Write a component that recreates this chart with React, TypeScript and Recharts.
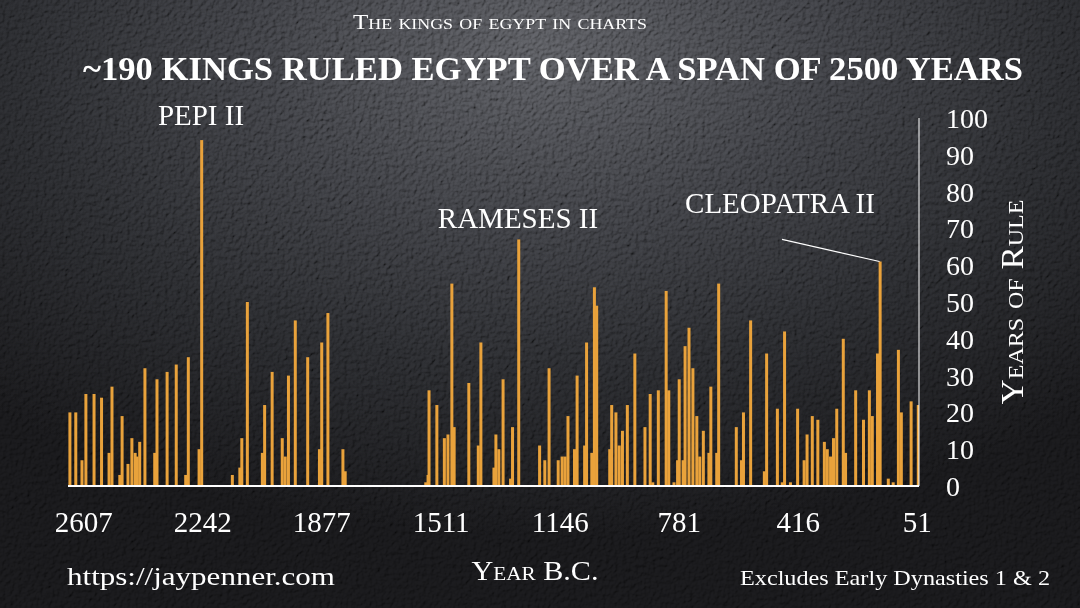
import React from 'react';
import { BarChart, Bar, XAxis, YAxis, ReferenceLine } from 'recharts';

// first year of each reign (B.C.)
const reignStart = [
  2649, 2631, 2612, 2600, 2575, 2552, 2529, 2520, 2496, 2489,
  2471, 2459, 2449, 2443, 2435, 2419, 2389, 2382, 2351, 2323,
  2294, 2286, 2253, 2245, 2151, 2128, 2122, 2105, 2059, 2052,
  2029, 1998, 1989, 1979, 1958, 1920, 1884, 1877, 1858, 1812,
  1805, 1558, 1551, 1548, 1524, 1501, 1490, 1478, 1471, 1426,
  1397, 1389, 1349, 1343, 1334, 1321, 1298, 1292, 1273, 1209,
  1193, 1180, 1152, 1140, 1131, 1122, 1102, 1094, 1071, 1065,
  1049, 1041, 1034, 994, 988, 975, 965, 955, 940, 917,
  886, 870, 862, 845, 821, 813, 797, 786, 781, 769,
  763, 751, 739, 727, 718, 707, 690, 684, 666, 660,
  606, 590, 584, 562, 520, 513, 480, 465, 458, 440,
  418, 398, 389, 373, 356, 336, 327, 317, 308, 298,
  278, 271, 240, 216, 198, 189, 173, 165, 140, 125,
  109, 100, 70, 48,
];

// years of rule for each king
const reignLength = [
  20, 20, 7, 25, 25, 24, 9, 27, 3, 19,
  6, 13, 9, 8, 12, 32, 9, 29, 31, 33,
  3, 35, 10, 94, 3, 5, 13, 50, 9, 22,
  31, 13, 8, 30, 45, 35, 10, 39, 47, 10,
  4, 1, 3, 26, 22, 13, 14, 55, 16, 28,
  11, 39, 5, 14, 10, 29, 2, 16, 67, 11,
  7, 32, 7, 8, 8, 19, 10, 30, 11, 39,
  9, 54, 49, 10, 22, 20, 11, 15, 22, 36,
  16, 25, 1, 26, 53, 26, 1, 7, 29, 7,
  38, 43, 32, 19, 8, 15, 9, 27, 9, 55,
  16, 7, 20, 45, 4, 36, 21, 1, 42, 1,
  21, 7, 14, 19, 18, 12, 10, 8, 13, 21,
  40, 9, 26, 18, 26, 19, 36, 61, 2, 1,
  37, 20, 23, 22,
];

const yearTicks = [2607, 2242, 1877, 1511, 1146, 781, 416, 51];
const ruleTicks = [0, 10, 20, 30, 40, 50, 60, 70, 80, 90, 100];

const data = reignStart.map((year, i) => ({ year, reign: reignLength[i] }));

const BAR_COLOR = '#e9a23b';
const FONT = '"Liberation Serif", "DejaVu Serif", serif';

// fixed-width bar centred on its year
function ThinBar(props: any) {
  const { x, y, width, height, fill } = props;
  if (!height || height <= 0) return <g />;
  return <rect x={x + width / 2 - 1.5} y={y} width={3} height={height} fill={fill} />;
}

export default function App() {
  return (
    <div
      style={{
        position: 'absolute',
        left: 0,
        top: 0,
        width: 1080,
        height: 608,
        overflow: 'hidden',
        background:
          'radial-gradient(ellipse 75% 80% at 50% 8%, #4a4b4f 0%, #343539 35%, #232427 65%, #141416 100%)',
      }}
    >
      <svg width={1080} height={608} style={{ position: 'absolute', left: 0, top: 0, mixBlendMode: 'overlay', opacity: 0.45 }}>
        <filter id="leather" x="0" y="0" width="100%" height="100%">
          <feTurbulence type="fractalNoise" baseFrequency="0.24" numOctaves={3} seed={7} result="n" />
          <feDiffuseLighting in="n" lightingColor="#ffffff" surfaceScale={2.4} diffuseConstant={0.9}>
            <feDistantLight azimuth={225} elevation={45} />
          </feDiffuseLighting>
        </filter>
        <rect width={1080} height={608} filter="url(#leather)" />
      </svg>

      <div style={{ position: 'absolute', left: 0, top: 0 }}>
        <BarChart width={1080} height={608} data={data} margin={{ top: 118, right: 81, bottom: 72, left: 68 }}>
          <XAxis
            dataKey="year"
            type="number"
            domain={[46, 2655]}
            reversed
            allowDataOverflow
            ticks={yearTicks}
            interval={0}
            tickLine={false}
            tickSize={0}
            tickMargin={25}
            height={50}
            axisLine={{ stroke: '#ffffff', strokeWidth: 2 }}
            tick={{ fill: '#ffffff', fontSize: 29, fontFamily: FONT }}
          />
          <YAxis
            orientation="right"
            type="number"
            domain={[0, 100]}
            ticks={ruleTicks}
            interval={0}
            tickLine={false}
            tickSize={0}
            tickMargin={27}
            width={80}
            axisLine={{ stroke: '#ffffff', strokeWidth: 1 }}
            tick={{ fill: '#ffffff', fontSize: 28, fontFamily: FONT }}
          />
          <ReferenceLine
            segment={[{ x: 466, y: 67 }, { x: 167, y: 61 }]}
            stroke="#ffffff"
            strokeWidth={1.2}
            ifOverflow="visible"
          />
          <Bar dataKey="reign" fill={BAR_COLOR} barSize={3} shape={<ThinBar />} isAnimationActive={false} />
        </BarChart>
      </div>

      <svg width={1080} height={608} style={{ position: 'absolute', left: 0, top: 0, pointerEvents: 'none' }} fontFamily={FONT} fill="#ffffff">
        <text x={500} y={29} fontSize={21} textAnchor="middle" textLength={294} lengthAdjust="spacingAndGlyphs" style={{ fontVariant: 'small-caps' }}>
          The kings of egypt in charts
        </text>
        <text x={553} y={80} fontSize={33} fontWeight="bold" textAnchor="middle" textLength={940} lengthAdjust="spacingAndGlyphs">
          ~190 KINGS RULED EGYPT OVER A SPAN OF 2500 YEARS
        </text>
        <text x={201} y={125} fontSize={29} textAnchor="middle">PEPI II</text>
        <text x={518} y={228} fontSize={29} textAnchor="middle">RAMESES II</text>
        <text x={780} y={213} fontSize={29} textAnchor="middle">CLEOPATRA II</text>
        <text
          transform="translate(1023,302) rotate(-90)"
          fontSize={32}
          textAnchor="middle"
          textLength={205}
          lengthAdjust="spacingAndGlyphs"
          style={{ fontVariant: 'small-caps' }}
        >
          Years of Rule
        </text>
        <text x={535} y={580} fontSize={27} textAnchor="middle" textLength={127} lengthAdjust="spacingAndGlyphs" style={{ fontVariant: 'small-caps' }}>
          Year B.C.
        </text>
        <text x={67} y={585} fontSize={26} textLength={268} lengthAdjust="spacingAndGlyphs">
          https://jaypenner.com
        </text>
        <text x={740} y={585} fontSize={22} textLength={310} lengthAdjust="spacingAndGlyphs">
          Excludes Early Dynasties 1 &amp; 2
        </text>
      </svg>
    </div>
  );
}
